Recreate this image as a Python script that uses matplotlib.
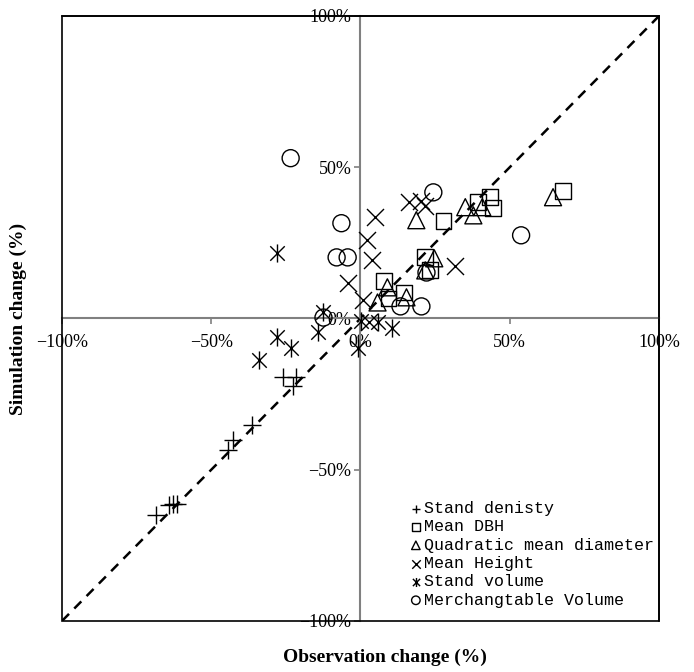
import numpy as np
import matplotlib.pyplot as plt
from matplotlib.path import Path
from matplotlib.patches import Rectangle

# observation change (%) / simulation change (%) per variable
density_obs = [-25.8, -21.7, -22.7, -36.5, -42.8, -44.5, -64.2, -62.9, -61.5, -68.6]
density_sim = [-19.2, -19.2, -22.2, -35.1, -40.1, -43.4, -61.6, -61.3, -61.3, -64.9]

dbh_obs = [67.9, 43.5, 39.5, 44.5, 27.8, 21.7, 23.4, 8.0, 14.7, 9.4]
dbh_sim = [42.1, 40.1, 38.4, 36.4, 32.1, 20.2, 15.9, 12.3, 8.6, 6.6]

qmd_obs = [64.5, 35.1, 40.8, 37.8, 18.7, 24.7, 21.7, 9.0, 15.4, 5.7]
qmd_sim = [40.1, 36.8, 36.8, 34.1, 32.5, 19.9, 15.9, 10.3, 7.0, 5.3]

height_obs = [5.0, 16.1, 20.1, 21.7, 2.3, 4.0, 31.8, -4.3, 0.7, 2.7]
height_sim = [33.4, 38.4, 38.7, 37.1, 25.8, 19.2, 17.5, 11.6, 6.0, -1.0]

volume_obs = [-28.1, -12.7, -14.4, -28.1, -34.1, -23.4, 0.3, -1.0, 5.7, 10.7]
volume_sim = [21.5, 2.0, -4.3, -6.0, -13.6, -9.6, -0.7, -9.6, -1.3, -3.0]

merch_obs = [-23.4, -6.4, -8.0, -4.3, 24.4, 22.1, 13.4, 20.4, 53.8, -12.4]
merch_sim = [53.0, 31.5, 20.2, 20.2, 41.7, 15.2, 4.0, 4.0, 27.5, 0.3]

ticks = [-100, -50, 0, 50, 100]
tick_labels = [('\u2212' if t < 0 else '') + f'{abs(t)}%' for t in ticks]

# asterisk: X with a vertical stroke
star = Path([(0, -1), (0, 1), (-0.8, -0.8), (0.8, 0.8), (-0.8, 0.8), (0.8, -0.8)],
            [Path.MOVETO, Path.LINETO] * 3)

fig = plt.figure(figsize=(6.94, 6.72), dpi=100)
ax = fig.add_axes([0.0893, 0.0759, 0.8603, 0.9003])

ax.plot([-100, 100], [-100, 100], color='black', lw=1.8, ls=(0, (4, 3)), zorder=1)

kw = dict(facecolors='none', edgecolors='black', linewidths=1.0, zorder=3)
series = [
    (density_obs, density_sim, '+', 150, 'Stand denisty'),
    (dbh_obs, dbh_sim, 's', 130, 'Mean DBH'),
    (qmd_obs, qmd_sim, '^', 150, 'Quadratic mean diameter'),
    (height_obs, height_sim, 'x', 150, 'Mean Height'),
    (volume_obs, volume_sim, star, 170, 'Stand volume'),
    (merch_obs, merch_sim, 'o', 150, 'Merchangtable Volume'),
]
for xs, ys, m, s, lab in series:
    if m in ('+', 'x') or m is star:
        ax.scatter(xs, ys, marker=m, s=s, color='black', linewidths=1.0, zorder=3, label=lab)
    else:
        ax.scatter(xs, ys, marker=m, s=s, label=lab, **kw)

ax.set_xlim(-100, 100)
ax.set_ylim(-100, 100)

for side in ['left', 'bottom']:
    ax.spines[side].set_position(('data', 0))
    ax.spines[side].set_color('#808080')
    ax.spines[side].set_linewidth(1.5)
for side in ['top', 'right']:
    ax.spines[side].set_color('black')
    ax.spines[side].set_linewidth(1.2)
ax.add_patch(Rectangle((0, 0), 1, 1, transform=ax.transAxes, fill=False,
                       edgecolor='black', lw=1.2, clip_on=False, zorder=4))

ax.set_xticks(ticks)
ax.set_xticklabels(tick_labels)
ax.set_yticks(ticks)
ax.set_yticklabels(tick_labels)
ax.tick_params(direction='out', length=4.5, width=1.2, color='#808080',
               labelsize=13, pad=2)
ax.tick_params(axis='x', pad=7)
for t in ax.get_xticklabels() + ax.get_yticklabels():
    t.set_fontfamily('Liberation Serif')

fig.text(0.555, 0.022, 'Observation change (%)', ha='center', va='center',
         fontsize=14, fontweight='bold', family='Liberation Serif')
fig.text(0.027, 0.525, 'Simulation change (%)', ha='center', va='center', rotation=90,
         fontsize=14, fontweight='bold', family='Liberation Serif')

ax.legend(loc='lower left', bbox_to_anchor=(0.562, 0.0), frameon=False,
          markerscale=0.5, handlelength=0.6, handletextpad=0.2, labelspacing=0.2,
          borderaxespad=0.4, prop={'family': 'Liberation Mono', 'size': 12})

fig.savefig('out.png', dpi=100)
